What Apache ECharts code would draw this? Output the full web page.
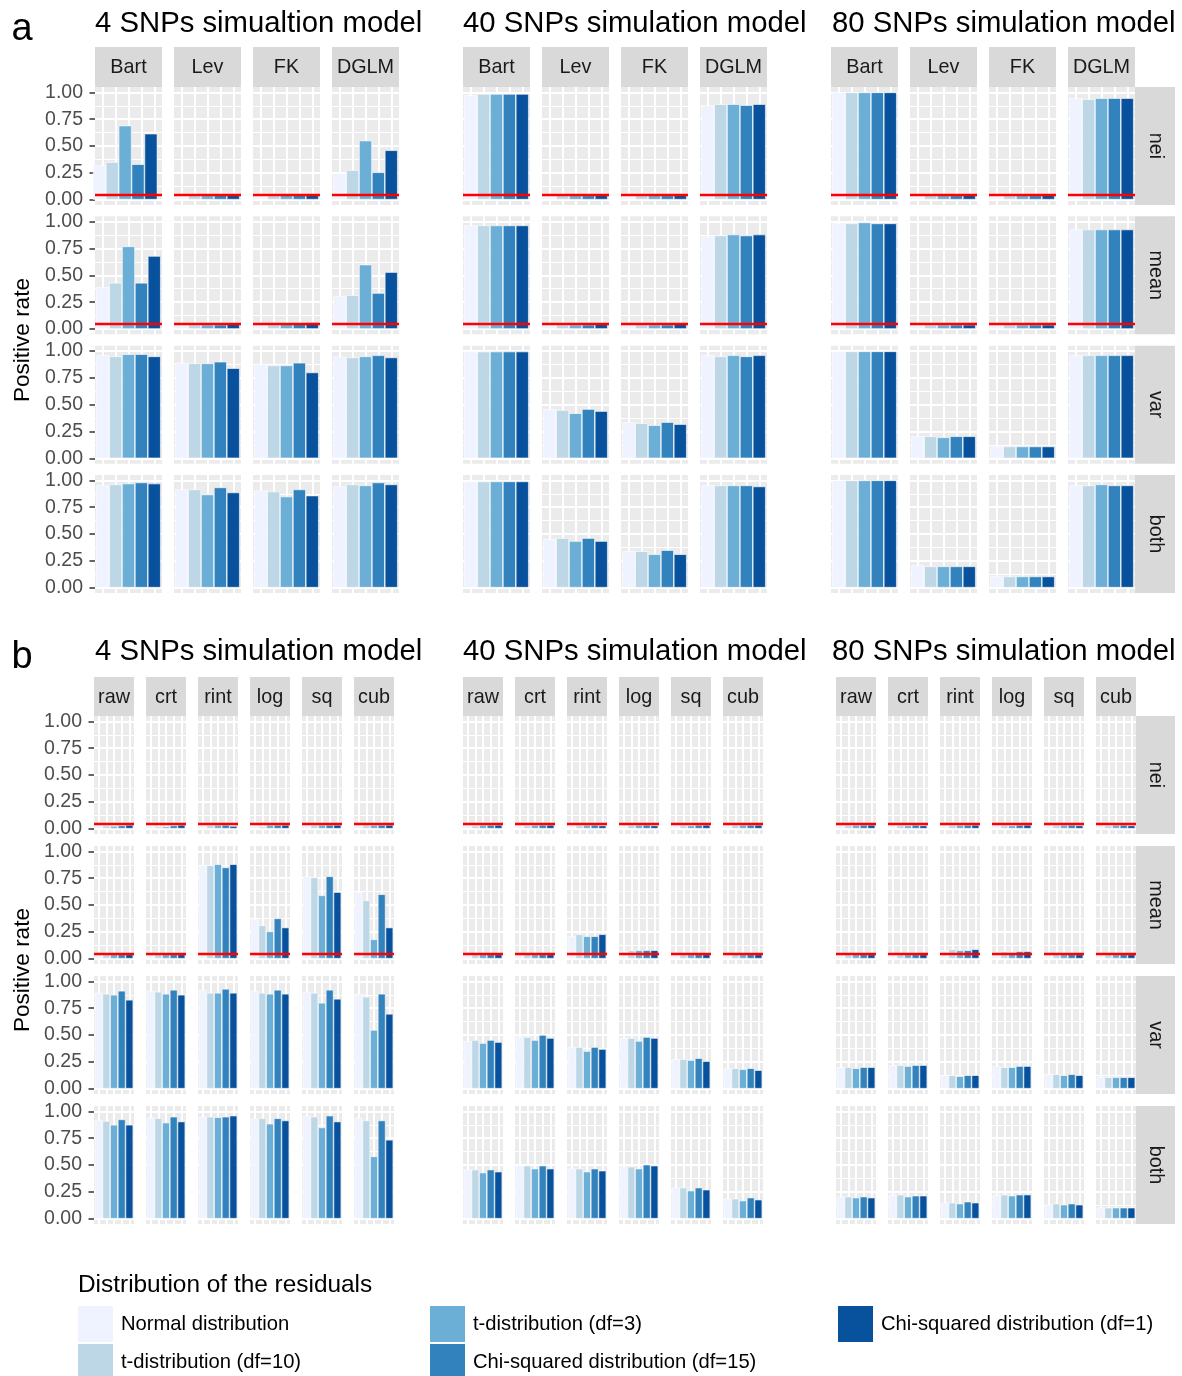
<!DOCTYPE html>
<html><head><meta charset="utf-8">
<script src="https://cdn.jsdelivr.net/npm/echarts@6/dist/echarts.min.js"></script>
<style>html,body{margin:0;padding:0;background:#fff}#c{width:1182px;height:1376px}</style>
</head><body><div id="c"></div>
<script>
// ---------- categories / labels ----------
const distributions = ['Normal distribution','t-distribution (df=10)','t-distribution (df=3)','Chi-squared distribution (df=15)','Chi-squared distribution (df=1)'];
const colors = ['#EFF3FF','#BDD7E7','#6BAED6','#3182BD','#08519C'];
const rowLabels = ['nei','mean','var','both'];
const methodsA = ['Bart','Lev','FK','DGLM'];
const transformsB = ['raw','crt','rint','log','sq','cub'];
const titlesA = ['4 SNPs simualtion model','40 SNPs simulation model','80 SNPs simulation model'];
const titlesB = ['4 SNPs simulation model','40 SNPs simulation model','80 SNPs simulation model'];
const yTicks = [0, 0.25, 0.5, 0.75, 1];
const yMinor = [0.125, 0.375, 0.625, 0.875];
const nominalLevel = 0.05;

// ---------- panel a values: [method][distribution] ----------
const a4_nei  = [[0.32,0.35,0.69,0.33,0.615],[0.035,0.04,0.04,0.045,0.045],[0.035,0.04,0.05,0.045,0.045],[0.245,0.275,0.55,0.255,0.46]];
const a4_mean = [[0.39,0.43,0.77,0.43,0.68],[0.035,0.04,0.04,0.04,0.045],[0.04,0.05,0.045,0.045,0.06],[0.305,0.315,0.60,0.335,0.53]];
const a4_var  = [[0.96,0.95,0.97,0.97,0.95],[0.89,0.885,0.885,0.90,0.84],[0.88,0.865,0.865,0.89,0.80],[0.947,0.94,0.95,0.96,0.94]];
const a4_both = [[0.953,0.962,0.97,0.98,0.97],[0.915,0.915,0.868,0.934,0.887],[0.906,0.896,0.849,0.915,0.858],[0.943,0.962,0.953,0.98,0.962]];
const a40_nei  = [[0.975,0.985,0.985,0.985,0.985],[0.035,0.04,0.04,0.04,0.045],[0.035,0.04,0.04,0.04,0.045],[0.88,0.89,0.89,0.88,0.89]];
const a40_mean = [[0.965,0.965,0.965,0.965,0.965],[0.035,0.04,0.04,0.04,0.045],[0.035,0.04,0.04,0.04,0.045],[0.861,0.871,0.88,0.871,0.88]];
const a40_var  = [[0.995,0.995,0.995,0.995,0.995],[0.459,0.45,0.42,0.459,0.44],[0.337,0.327,0.308,0.337,0.318],[0.96,0.95,0.96,0.95,0.96]];
const a40_both = [[0.99,0.99,0.99,0.99,0.99],[0.453,0.462,0.434,0.462,0.434],[0.34,0.34,0.311,0.349,0.311],[0.953,0.953,0.953,0.953,0.943]];
const a80_nei  = [[1.0,1.0,1.0,1.0,1.0],[0.035,0.04,0.04,0.04,0.045],[0.035,0.04,0.04,0.04,0.045],[0.946,0.937,0.946,0.946,0.946]];
const a80_mean = [[0.984,0.984,0.993,0.984,0.984],[0.035,0.04,0.04,0.04,0.04],[0.035,0.04,0.04,0.04,0.04],[0.927,0.927,0.927,0.927,0.927]];
const a80_var  = [[0.997,0.997,0.997,0.997,0.997],[0.205,0.205,0.195,0.205,0.205],[0.11,0.11,0.11,0.11,0.11],[0.96,0.96,0.96,0.96,0.96]];
const a80_both = [[1.0,1.0,1.0,1.0,1.0],[0.208,0.198,0.198,0.198,0.198],[0.104,0.104,0.104,0.104,0.104],[0.953,0.953,0.962,0.953,0.953]];

// ---------- panel b values: [transformation][distribution] ----------
const b4_nei  = [[0.03,0.03,0.025,0.03,0.035],[0.03,0.02,0.02,0.03,0.035],[0.035,0.035,0.035,0.035,0.025],[0.035,0.02,0.035,0.035,0.035],[0.035,0.035,0.035,0.035,0.035],[0.035,0.035,0.035,0.035,0.035]];
const b4_mean = [[0.04,0.04,0.04,0.04,0.04],[0.04,0.04,0.04,0.04,0.04],[0.87,0.87,0.88,0.85,0.88],[0.366,0.31,0.254,0.375,0.29],[0.767,0.757,0.59,0.767,0.62],[0.62,0.543,0.18,0.60,0.29]];
const b4_var  = [[0.893,0.884,0.875,0.912,0.828],[0.912,0.903,0.884,0.921,0.875],[0.921,0.893,0.893,0.93,0.893],[0.912,0.893,0.884,0.921,0.884],[0.903,0.893,0.80,0.921,0.837],[0.884,0.856,0.547,0.884,0.697]];
const b4_both = [[0.92,0.91,0.875,0.925,0.875],[0.94,0.935,0.895,0.95,0.905],[0.95,0.95,0.945,0.95,0.96],[0.935,0.935,0.885,0.935,0.915],[0.96,0.95,0.85,0.96,0.905],[0.94,0.915,0.58,0.915,0.735]];
const b40_nei  = [[0.03,0.03,0.035,0.035,0.035],[0.03,0.03,0.035,0.035,0.035],[0.035,0.035,0.035,0.035,0.03],[0.035,0.035,0.035,0.035,0.03],[0.035,0.035,0.03,0.035,0.035],[0.035,0.035,0.035,0.035,0.035]];
const b40_mean = [[0.035,0.04,0.04,0.04,0.04],[0.035,0.04,0.04,0.04,0.04],[0.208,0.227,0.208,0.208,0.227],[0.068,0.078,0.078,0.078,0.078],[0.035,0.04,0.04,0.04,0.04],[0.035,0.04,0.04,0.04,0.04]];
const b40_var  = [[0.444,0.453,0.425,0.453,0.434],[0.481,0.481,0.453,0.5,0.472],[0.3875,0.3875,0.35,0.3875,0.369],[0.472,0.472,0.444,0.481,0.472],[0.275,0.275,0.266,0.284,0.256],[0.19,0.19,0.181,0.19,0.172]];
const b40_both = [[0.457,0.457,0.429,0.457,0.438],[0.494,0.494,0.466,0.494,0.466],[0.466,0.466,0.438,0.466,0.447],[0.484,0.484,0.466,0.503,0.494],[0.289,0.289,0.261,0.289,0.27],[0.186,0.186,0.168,0.196,0.177]];
const b80_nei  = [[0.035,0.035,0.035,0.035,0.035],[0.035,0.035,0.03,0.035,0.03],[0.035,0.035,0.035,0.035,0.035],[0.035,0.035,0.03,0.035,0.035],[0.035,0.035,0.035,0.035,0.03],[0.035,0.03,0.035,0.035,0.03]];
const b80_mean = [[0.035,0.04,0.04,0.04,0.04],[0.035,0.04,0.04,0.04,0.04],[0.078,0.087,0.078,0.078,0.087],[0.059,0.068,0.059,0.068,0.068],[0.035,0.04,0.04,0.04,0.04],[0.035,0.04,0.04,0.04,0.04]];
const b80_var  = [[0.2,0.2,0.19,0.2,0.2],[0.219,0.219,0.21,0.219,0.219],[0.125,0.125,0.116,0.125,0.125],[0.21,0.2,0.2,0.21,0.21],[0.134,0.134,0.125,0.134,0.125],[0.106,0.106,0.106,0.106,0.106]];
const b80_both = [[0.205,0.205,0.196,0.205,0.196],[0.224,0.224,0.205,0.214,0.214],[0.149,0.149,0.14,0.158,0.149],[0.224,0.224,0.214,0.224,0.224],[0.13,0.14,0.13,0.14,0.13],[0.102,0.102,0.102,0.102,0.102]];

const panelA = [[a4_nei,a4_mean,a4_var,a4_both],[a40_nei,a40_mean,a40_var,a40_both],[a80_nei,a80_mean,a80_var,a80_both]];
const panelB = [[b4_nei,b4_mean,b4_var,b4_both],[b40_nei,b40_mean,b40_var,b40_both],[b80_nei,b80_mean,b80_var,b80_both]];

// ---------- layout ----------
const FONT = "'Liberation Sans', Arial, Helvetica, sans-serif";
const LA = {groupX:[95,463,831], colPitch:79, colW:67, rowTop:87, rowPitch:129.33, rowH:118, stripTop:47, stripH:40, rStripX:1135, rStripW:40, titleX:[95,463,832], titleY:24, tag:'a', tagY:30, ytitleY:340};
const LB = {groupX:[94,463,836], colPitch:52, colW:40, rowTop:716, rowPitch:130, rowH:118, stripTop:677, stripH:39, rStripX:1136, rStripW:39, titleX:[95,463,832], titleY:652, tag:'b', tagY:658, ytitleY:970};

const grids=[], xAxes=[], yAxes=[], series=[], graphics=[];

function addFacet(left, top, width, height, values, showY, showRed){
  const k = grids.length;
  grids.push({left, top, width, height, show:true, backgroundColor:'#EBEBEB', borderWidth:0, containLabel:false});
  xAxes.push({gridIndex:k, type:'value', min:0.4, max:5.6,
    axisLine:{show:false}, axisTick:{show:false, customValues:[1,2,3,4,5]},
    axisLabel:{show:false, customValues:[1,2,3,4,5]},
    splitLine:{show:true, lineStyle:{color:'#FFFFFF', width:2}}});
  yAxes.push({gridIndex:k, type:'value', min:-0.05, max:1.05,
    axisLine:{show:false},
    axisTick:{show:showY, customValues:yTicks, length:5.5, lineStyle:{color:'#333333', width:1.5}},
    axisLabel:{show:showY, customValues:yTicks, formatter:v=>Number(v).toFixed(2), fontSize:19.5, color:'#4D4D4D', fontFamily:FONT, margin:12},
    splitLine:{show:true, lineStyle:{color:'#FFFFFF', width:2}}});
  yAxes.push({gridIndex:k, type:'value', min:-0.05, max:1.05,
    axisLine:{show:false},
    axisTick:{show:false, customValues:yMinor},
    axisLabel:{show:false, customValues:yMinor},
    splitLine:{show:true, lineStyle:{color:'#FFFFFF', width:1}}});
  const s = {type:'bar', xAxisIndex:k, yAxisIndex:2*k, silent:true, animation:false,
    barWidth: width/5.2, clip:false,
    itemStyle:{borderColor:'#FFFFFF', borderWidth:0.6},
    data: values.map((v,i)=>({value:[i+1, v], itemStyle:{color:colors[i]}}))};
  if (showRed) {
    s.markLine = {silent:true, symbol:'none', animation:false, label:{show:false},
      lineStyle:{color:'#FF0000', width:2.4, type:'solid'},
      data:[{yAxis:nominalLevel}]};
  }
  series.push(s);
}

function txt(x, y, text, size, color, rotation, align){
  graphics.push({type:'text', x, y, rotation: rotation||0, silent:true,
    style:{text, fill:color, fontSize:size, fontFamily:FONT, align:align||'center', verticalAlign:'middle'}});
}
function rect(x, y, w, h, fill){
  graphics.push({type:'rect', silent:true, shape:{x, y, width:w, height:h}, style:{fill}});
}

function buildPanel(L, data, colLabels, titles){
  const nCol = colLabels.length;
  for (let g=0; g<3; g++){
    txt(L.titleX[g], L.titleY, titles[g], 29.3, '#000000', 0, 'left');
    for (let c=0; c<nCol; c++){
      const left = L.groupX[g] + c*L.colPitch;
      rect(left, L.stripTop, L.colW, L.stripH, '#D9D9D9');
      txt(left + L.colW/2, L.stripTop + L.stripH/2 + 1, colLabels[c], 19.8, '#1A1A1A');
      for (let r=0; r<4; r++){
        const top = L.rowTop + r*L.rowPitch;
        addFacet(left, top, L.colW, L.rowH, data[g][r][c], g===0 && c===0, r<2);
      }
    }
  }
  for (let r=0; r<4; r++){
    const top = L.rowTop + r*L.rowPitch;
    rect(L.rStripX, top, L.rStripW, L.rowH, '#D9D9D9');
    txt(L.rStripX + L.rStripW/2, top + L.rowH/2, rowLabels[r], 19.8, '#1A1A1A', -Math.PI/2);
  }
  txt(22, L.tagY, L.tag, 38, '#000000');
  txt(23, L.ytitleY, 'Positive rate', 22.5, '#000000', Math.PI/2);
}

buildPanel(LA, panelA, methodsA, titlesA);
buildPanel(LB, panelB, transformsB, titlesB);

// legend title
txt(78, 1285, 'Distribution of the residuals', 24.4, '#000000', 0, 'left');

// dummy series for the legend entries
distributions.forEach((d,i)=>{
  series.push({type:'bar', name:d, xAxisIndex:0, yAxisIndex:0, data:[], itemStyle:{color:colors[i]}, silent:true});
});

// legend key positions (column-major, 2 rows)
const legendPos = [[78,1306],[78,1344],[430,1306],[430,1344],[838,1306]];
const legends = distributions.map((d,i)=>({
  left: legendPos[i][0], top: legendPos[i][1], padding:0, itemWidth:35, itemHeight:36,
  icon:'rect', selectedMode:false, data:[d],
  textStyle:{fontSize:20.2, color:'#000000', fontFamily:FONT, padding:[3,0,0,3]}
}));

const chart = echarts.init(document.getElementById('c'), null, {renderer:'canvas'});
chart.setOption({
  animation:false,
  grid: grids, xAxis: xAxes, yAxis: yAxes, series,
  legend: legends,
  graphic: graphics
});
</script></body></html>
